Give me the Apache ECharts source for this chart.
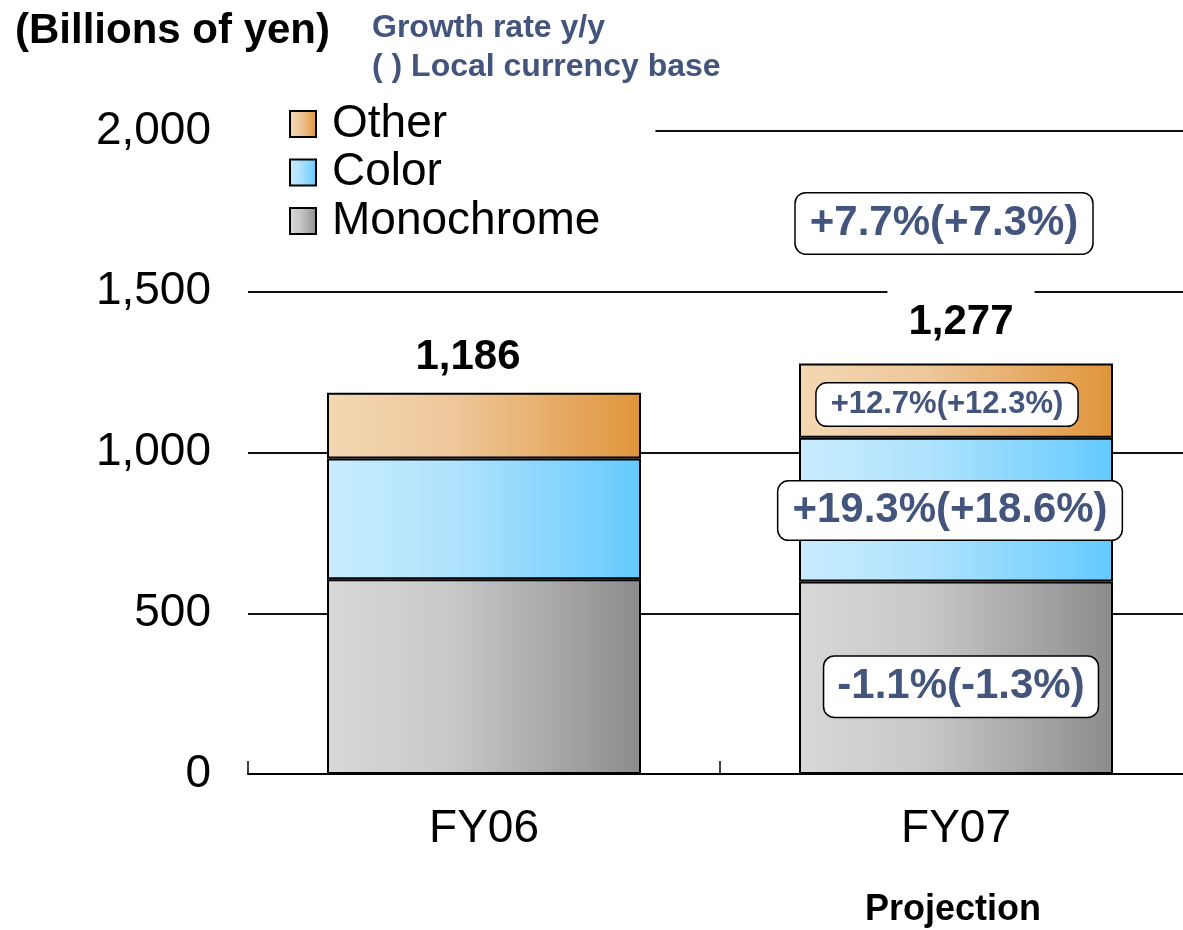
<!DOCTYPE html>
<html>
<head>
<meta charset="utf-8">
<script src="https://cdn.jsdelivr.net/npm/echarts@6/dist/echarts.min.js"></script>
<style>
html,body{margin:0;padding:0;background:#fff;}
#chart{width:1183px;height:930px;}
</style>
</head>
<body>
<div id="chart"></div>
<script>
// ---- data ----
const categories = ['FY06', 'FY07'];
const monochrome = [606, 599];
const color = [375, 447];
const other = [205, 231];
const totals = [1186, 1277];
const yTicks = [0, 500, 1000, 1500, 2000];
// growth rate y/y (yen) and local currency base, FY07 only
const growthMono = [null, -1.1];
const growthMonoLocal = [null, -1.3];
const growthColor = [null, 19.3];
const growthColorLocal = [null, 18.6];
const growthOther = [null, 12.7];
const growthOtherLocal = [null, 12.3];
const growthTotal = [null, 7.7];
const growthTotalLocal = [null, 7.3];

const FONT = "'Liberation Sans', Arial, Helvetica, sans-serif";
const BLUE = '#44557d';

function fmtPct(v) { return (v > 0 ? '+' : '') + v.toFixed(1) + '%'; }
function growthText(a, b, i) { return fmtPct(a[i]) + '(' + fmtPct(b[i]) + ')'; }

function grad(c0, c1, c2) {
  return new echarts.graphic.LinearGradient(0, 0, 1, 0, [
    { offset: 0, color: c0 }, { offset: 0.4, color: c1 }, { offset: 1, color: c2 }
  ]);
}

function boxLabel(fontSize, lineHeight, padding, offset) {
  return {
    show: true, position: 'inside', offset: offset,
    fontFamily: FONT, fontWeight: 'bold', fontSize: fontSize, lineHeight: lineHeight,
    color: BLUE, backgroundColor: '#fff', borderColor: '#000', borderWidth: 1.5,
    borderRadius: 10, padding: padding
  };
}

function segData(values, gA, gB, labelCfg) {
  return values.map((v, i) => {
    if (gA[i] == null) return { value: v, label: { show: false } };
    return { value: v, label: Object.assign({}, labelCfg, { formatter: growthText(gA, gB, i) }) };
  });
}

const barBorder = { borderColor: '#000', borderWidth: 2 };
const chart = echarts.init(document.getElementById('chart'), null, { renderer: 'canvas' });

const option = {
  animation: false,
  backgroundColor: '#fff',
  grid: { left: 248, width: 944, top: 131, bottom: 156, containLabel: false, outerBoundsMode: 'none' },
  legend: {
    data: ['Other', 'Color', 'Monochrome'],
    orient: 'vertical', left: 248, top: 96,
    padding: [5, 55, 5, 41],
    backgroundColor: '#fff',
    icon: 'rect', itemWidth: 26, itemHeight: 26, itemGap: 2.5,
    itemStyle: { borderColor: '#000', borderWidth: 2 },
    textStyle: { fontFamily: FONT, fontSize: 46, color: '#000', padding: [0, 0, 0, 11] },
    selectedMode: false
  },
  xAxis: {
    type: 'category', data: categories,
    axisLine: { lineStyle: { color: '#000', width: 2 } },
    axisTick: { show: true, inside: true, length: 13, lineStyle: { color: '#000', width: 1.5 } },
    axisLabel: { fontFamily: FONT, fontSize: 46, color: '#000', margin: 32 }
  },
  yAxis: {
    type: 'value', min: yTicks[0], max: yTicks[yTicks.length - 1], interval: yTicks[1] - yTicks[0],
    axisLine: { show: false }, axisTick: { show: false },
    axisLabel: { fontFamily: FONT, fontSize: 46, color: '#000', margin: 37,
      formatter: v => v.toLocaleString('en-US') },
    splitLine: { show: true, lineStyle: { color: '#111', width: 2 } }
  },
  series: [
    {
      name: 'Monochrome', type: 'bar', stack: 'total', barWidth: 314,
      itemStyle: Object.assign({ color: grad('#d8d8d8', '#c8c8c8', '#8c8c8c') }, barBorder),
      data: segData(monochrome, growthMono, growthMonoLocal, boxLabel(42, 46, [7, 13, 7, 13], [5, 9]))
    },
    {
      name: 'Color', type: 'bar', stack: 'total', barWidth: 314,
      itemStyle: Object.assign({ color: grad('#c8ecfd', '#b0e3fd', '#64cafd') }, barBorder),
      data: segData(color, growthColor, growthColorLocal, boxLabel(42, 46, [6, 14, 6, 14], [-6, 1]))
    },
    {
      name: 'Other', type: 'bar', stack: 'total', barWidth: 314,
      itemStyle: Object.assign({ color: grad('#f4d8b3', '#eec79b', '#e0953a') }, barBorder),
      data: segData(other, growthOther, growthOtherLocal, boxLabel(31, 34, [4, 14, 4, 14], [-9, 4]))
    },
    {
      name: 'TotalValue', type: 'scatter', symbolSize: 0, z: 6,
      itemStyle: { opacity: 1 },
      data: totals.map((v, i) => ({
        value: v,
        label: {
          show: true, position: 'inside', offset: i === 0 ? [-16, -35] : [5, -41],
          formatter: v.toLocaleString('en-US'),
          fontFamily: FONT, fontWeight: 'bold', fontSize: 42, color: '#000',
          backgroundColor: '#fff', padding: [14, 21, 11, 21]
        }
      }))
    },
    {
      name: 'TotalGrowth', type: 'scatter', symbolSize: 0, z: 6,
      itemStyle: { opacity: 1 },
      data: totals.map((v, i) => {
        if (growthTotal[i] == null) return { value: v, label: { show: false } };
        return { value: v, label: Object.assign(boxLabel(42, 46, [7, 14, 7, 14], [-12, -140]),
          { formatter: growthText(growthTotal, growthTotalLocal, i) }) };
      })
    }
  ],
  graphic: [
    { type: 'text', left: 15, top: 10,
      style: { text: '(Billions of yen)', fontFamily: FONT, fontWeight: 'bold', fontSize: 42, fill: '#000' } },
    { type: 'text', left: 372, top: 12,
      style: { text: 'Growth rate y/y', fontFamily: FONT, fontWeight: 'bold', fontSize: 32, fill: BLUE } },
    { type: 'text', left: 372, top: 51,
      style: { text: '( ) Local currency base', fontFamily: FONT, fontWeight: 'bold', fontSize: 32, fill: BLUE } },
    { type: 'text', x: 953, y: 910,
      style: { text: 'Projection', fontFamily: FONT, fontWeight: 'bold', fontSize: 36, fill: '#000',
        align: 'center', verticalAlign: 'middle' } }
  ]
};
chart.setOption(option);
</script>
</body>
</html>
